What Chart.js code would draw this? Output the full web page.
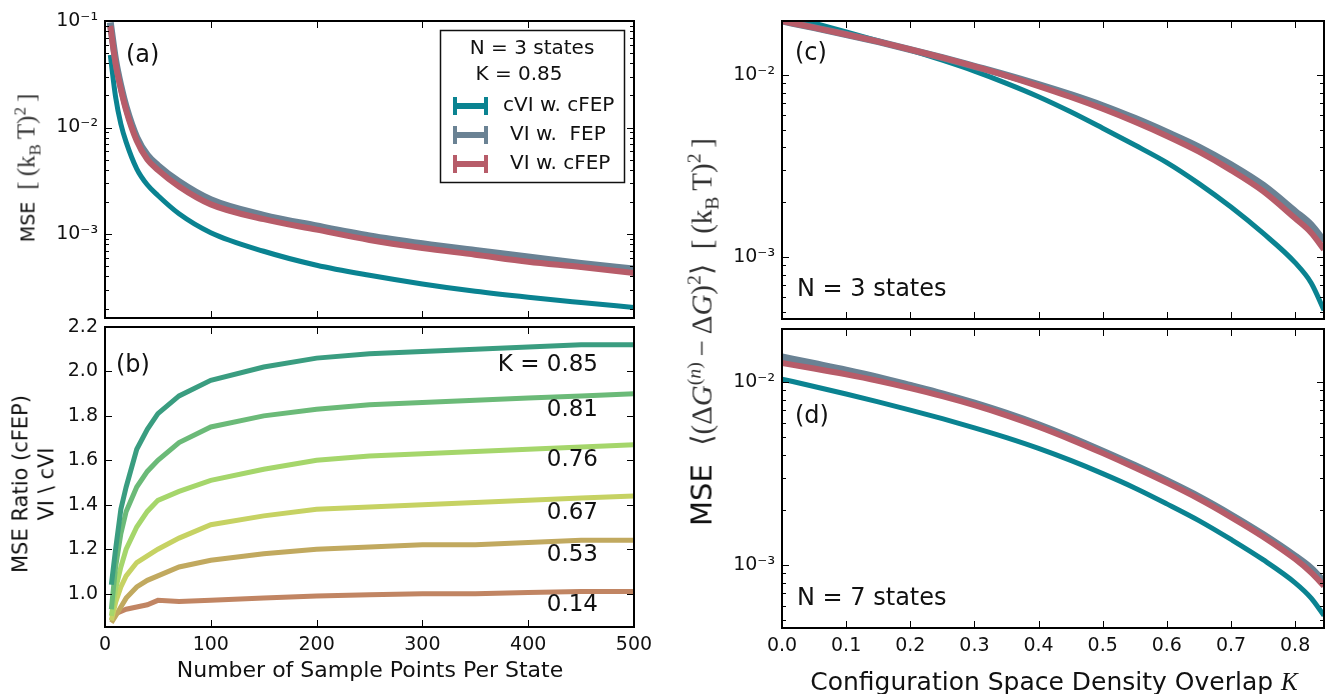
<!DOCTYPE html>
<html>
<head>
<meta charset="utf-8">
<script src="https://cdn.jsdelivr.net/npm/chart.js@4.4.0/dist/chart.umd.min.js"></script>
<style>
body{margin:0;background:#fff;}
#wrap{position:relative;width:1330px;height:694px;overflow:hidden;font-family:"DejaVu Sans",sans-serif;color:#111;}
canvas{position:absolute;left:0;top:0;}
.lbl{position:absolute;white-space:nowrap;line-height:1;}
.ctr{transform:translate(-50%,-50%);}
.rot{transform:translate(-50%,-50%) rotate(-90deg);}
.m{font-family:"Liberation Serif","DejaVu Serif",serif;color:#333;}
sup,sub{font-size:0.68em;line-height:0;}
</style>
</head>
<body>
<div id="wrap">
  <canvas id="pa" width="1330" height="694"></canvas>
  <canvas id="pb" width="1330" height="694"></canvas>
  <canvas id="pc" width="1330" height="694"></canvas>
  <canvas id="pd" width="1330" height="694"></canvas>

  <div class="lbl rot" style="left:26px;top:168px;font-size:19px;">MSE&nbsp;&nbsp;<span class="m" style="font-size:25px;">[&thinsp;(k<sub>B</sub>&thinsp;T)<sup>2</sup>&thinsp;]</span></div>
  <div class="lbl rot" style="left:34px;top:484px;font-size:21px;text-align:center;line-height:1.22;">MSE Ratio (cFEP)<br>VI \ cVI</div>
  <div class="lbl ctr" style="left:370px;top:670px;font-size:22px;">Number of Sample Points Per State</div>
  <div class="lbl rot" style="left:702px;top:332px;font-size:29px;">MSE&nbsp;&nbsp;<span class="m" style="font-size:29px;">&#10216;(Δ<i>G</i><sup>(<i>n</i>)</sup>&thinsp;−&thinsp;Δ<i>G</i>)<sup>2</sup>&#10217;&nbsp;&nbsp;[&thinsp;(k<sub>B</sub>&thinsp;T)<sup>2</sup>&thinsp;]</span></div>
  <div class="lbl ctr" style="left:1054px;top:681px;font-size:25px;">Configuration Space Density Overlap <span class="m" style="font-style:italic;color:#111;">K</span></div>
</div>

<script>
// panel (a): MSE vs number of samples, N = 3 states, K = 0.85
const nSamples = [5, 10, 15, 20, 30, 40, 50, 70, 100, 150, 200, 250, 300, 350, 400, 450, 500];
const mseCVIcFEP = [0.048, 0.0194, 0.0108, 0.0073, 0.0041, 0.0029, 0.0023, 0.00155, 0.00103, 0.00069, 0.00051, 0.00041, 0.00034, 0.00029, 0.000255, 0.000228, 0.000205];
const mseVIFEP   = [0.097, 0.043, 0.0245, 0.0156, 0.0081, 0.0055, 0.0044, 0.0031, 0.0021, 0.0015, 0.00119, 0.00096, 0.00081, 0.0007, 0.00061, 0.00053, 0.00047];
const mseVIcFEP  = [0.090, 0.040, 0.023, 0.0145, 0.0075, 0.0050, 0.0040, 0.0028, 0.0019, 0.00138, 0.0011, 0.00088, 0.00074, 0.00064, 0.00055, 0.00049, 0.00043];
const legendNames = ['cVI w. cFEP', 'VI w.  FEP', 'VI w. cFEP'];

// panel (b): MSE ratio for several overlaps K
const nRatio = [6, 10, 15, 20, 30, 40, 50, 70, 100, 150, 200, 250, 300, 350, 400, 450, 500];
const ratioK85 = [1.04, 1.20, 1.38, 1.48, 1.65, 1.74, 1.81, 1.89, 1.96, 2.02, 2.06, 2.08, 2.09, 2.10, 2.11, 2.12, 2.12];
const ratioK81 = [0.93, 1.12, 1.27, 1.37, 1.48, 1.55, 1.60, 1.68, 1.75, 1.80, 1.83, 1.85, 1.86, 1.87, 1.88, 1.89, 1.90];
const ratioK76 = [0.90, 1.02, 1.12, 1.20, 1.30, 1.37, 1.42, 1.46, 1.51, 1.56, 1.60, 1.62, 1.63, 1.64, 1.65, 1.66, 1.67];
const ratioK67 = [0.88, 0.96, 1.03, 1.08, 1.14, 1.17, 1.20, 1.25, 1.31, 1.35, 1.38, 1.39, 1.40, 1.41, 1.42, 1.43, 1.44];
const ratioK53 = [0.87, 0.90, 0.94, 0.98, 1.03, 1.06, 1.08, 1.12, 1.15, 1.18, 1.20, 1.21, 1.22, 1.22, 1.23, 1.24, 1.24];
const ratioK14 = [0.88, 0.91, 0.92, 0.93, 0.94, 0.95, 0.97, 0.965, 0.97, 0.98, 0.99, 0.995, 1.00, 1.00, 1.005, 1.01, 1.01];
const ratioLabels = ['K = 0.85', '0.81', '0.76', '0.67', '0.53', '0.14'];

// panels (c) and (d): MSE vs overlap K
const kOverlap = [0, 0.05, 0.1, 0.15, 0.2, 0.25, 0.3, 0.35, 0.4, 0.45, 0.5, 0.55, 0.6, 0.65, 0.7, 0.75, 0.8, 0.825, 0.845];
const n3CVIcFEP = [0.0215, 0.01928, 0.01726, 0.0154, 0.0137, 0.01205, 0.0105, 0.0090, 0.0076, 0.00628, 0.0051, 0.00412, 0.0033, 0.00253, 0.00188, 0.00135, 0.00093, 0.00072, 0.00051];
const n3VIFEP   = [0.0198, 0.0182, 0.0167, 0.01524, 0.0138, 0.01245, 0.01116, 0.00999, 0.00886, 0.0078, 0.00678, 0.00578, 0.00485, 0.00402, 0.00321, 0.00248, 0.00178, 0.0015, 0.00122];
const n3VIcFEP  = [0.0198, 0.0182, 0.0167, 0.01524, 0.0138, 0.01245, 0.01114, 0.00989, 0.00869, 0.00757, 0.00652, 0.00553, 0.00462, 0.00379, 0.0030, 0.0023, 0.00163, 0.00136, 0.0011];
const n7CVIcFEP = [0.01038, 0.00946, 0.00861, 0.0078, 0.00703, 0.00631, 0.00562, 0.00497, 0.00434, 0.00373, 0.00316, 0.00264, 0.00216, 0.00175, 0.00138, 0.00107, 0.0008, 0.00066, 0.00053];
const n7VIFEP   = [0.0137, 0.01263, 0.01163, 0.01062, 0.00959, 0.00863, 0.00767, 0.00674, 0.00584, 0.00498, 0.00419, 0.0035, 0.00289, 0.00236, 0.00188, 0.00147, 0.00112, 0.00096, 0.00081];
const n7VIcFEP  = [0.0127, 0.01186, 0.01102, 0.01016, 0.00927, 0.00838, 0.00748, 0.00658, 0.0057, 0.00486, 0.00409, 0.00341, 0.00282, 0.0023, 0.00183, 0.00143, 0.00108, 0.00091, 0.00077];

// tick values
const sampleTicks = [0, 100, 200, 300, 400, 500];
const ratioTicks = [1.0, 1.2, 1.4, 1.6, 1.8, 2.0, 2.2];
const kTicks = [0, 0.1, 0.2, 0.3, 0.4, 0.5, 0.6, 0.7, 0.8];
const logTicksA = [1e-3, 1e-2, 1e-1];
const logTicksCD = [1e-3, 1e-2];

const FONT = '"DejaVu Sans", sans-serif';
const TEAL = '#0a8391', GRAY = '#6a8294', RED = '#b75c69';
const ratioColors = ['#3a9d80', '#6bba78', '#a5d66b', '#c6d263', '#c1a95f', '#c18563'];

const SUP = {'-': '\u207B', '0': '\u2070', '1': '\u00B9', '2': '\u00B2', '3': '\u00B3', '4': '\u2074', '5': '\u2075'};
function logLabel(v) {
  const e = Math.round(Math.log10(v));
  return '10' + String(e).split('').map(c => SUP[c]).join('');
}
function pts(xs, ys) { return xs.map((x, i) => ({x: x, y: ys[i]})); }

// frame with inward ticks on all four sides, plus in-plot text
const frame = {
  id: 'frame',
  afterDatasetsDraw(chart, args, opts) {
    const ctx = chart.ctx, a = chart.chartArea, x = chart.scales.x, y = chart.scales.y;
    ctx.save();
    ctx.strokeStyle = '#000';
    ctx.lineWidth = 1;
    const tk = (px, py, dx, dy) => { ctx.beginPath(); ctx.moveTo(px, py); ctx.lineTo(px + dx, py + dy); ctx.stroke(); };
    x.ticks.forEach(t => { const p = Math.round(x.getPixelForValue(t.value)) + 0.5; tk(p, a.bottom, 0, -7); tk(p, a.top, 0, 7); });
    y.ticks.forEach(t => { const p = Math.round(y.getPixelForValue(t.value)) + 0.5; tk(a.left, p, 7, 0); tk(a.right, p, -7, 0); });
    if (y.type === 'logarithmic') {
      for (let e = -5; e <= 0; e++) {
        for (let m = 2; m < 10; m++) {
          const v = m * Math.pow(10, e);
          if (v > y.min && v < y.max) {
            const p = Math.round(y.getPixelForValue(v)) + 0.5;
            tk(a.left, p, 4, 0); tk(a.right, p, -4, 0);
          }
        }
      }
    }
    ctx.lineWidth = 2;
    ctx.strokeRect(a.left, a.top, a.right - a.left, a.bottom - a.top);
    ctx.fillStyle = '#111';
    ctx.textBaseline = 'middle';
    (opts.texts || []).forEach(t => {
      ctx.font = t.size + 'px ' + FONT;
      ctx.textAlign = t.align || 'left';
      ctx.fillText(t.text, t.x, t.y);
    });
    if (opts.legend) drawLegend(ctx);
    ctx.restore();
  }
};

function drawLegend(ctx) {
  ctx.fillStyle = '#fff';
  ctx.fillRect(440, 30, 184, 152);
  ctx.strokeStyle = '#111';
  ctx.lineWidth = 1.5;
  ctx.strokeRect(440.5, 30.5, 184, 152);
  ctx.fillStyle = '#111';
  ctx.font = '20px ' + FONT;
  ctx.textAlign = 'center';
  ctx.fillText('N = 3 states', 532, 49);
  ctx.fillText('K = 0.85', 519, 75);
  const cols = [TEAL, GRAY, RED];
  const tx = [503, 510, 510];
  legendNames.forEach((name, i) => {
    const yy = 106 + i * 29;
    ctx.fillStyle = cols[i];
    ctx.fillRect(453, yy - 3, 35, 6);
    ctx.fillRect(453, yy - 9, 4, 18);
    ctx.fillRect(484, yy - 9, 4, 18);
    ctx.fillStyle = '#111';
    ctx.textAlign = 'left';
    ctx.fillText(name, tx[i], yy);
  });
}

function line(xs, ys, color, width, smooth) {
  return {
    data: pts(xs, ys), borderColor: color, borderWidth: width, pointRadius: 0,
    fill: false, clip: 0, cubicInterpolationMode: smooth ? 'monotone' : 'default', tension: 0
  };
}

function panel(id, o) {
  return new Chart(document.getElementById(id), {
    type: 'line',
    data: {datasets: o.datasets},
    options: {
      responsive: false, animation: false, devicePixelRatio: 1,
      layout: {padding: o.pad},
      plugins: {legend: {display: false}, tooltip: {enabled: false}, frame: {texts: o.texts, legend: o.legend}},
      scales: {
        x: {
          type: 'linear', min: o.xMin, max: o.xMax,
          grid: {display: false, drawTicks: false}, border: {display: false},
          ticks: {display: o.xShow, font: {family: FONT, size: 19}, color: '#111', padding: 7, maxRotation: 0, autoSkip: false, callback: o.xFmt},
          afterBuildTicks: s => { s.ticks = o.xTicks.map(v => ({value: v})); },
          afterFit: s => { s.height = o.xH; s.paddingLeft = 0; s.paddingRight = 0; }
        },
        y: {
          type: o.yType, min: o.yMin, max: o.yMax,
          grid: {display: false, drawTicks: false}, border: {display: false},
          ticks: {font: {family: FONT, size: 19}, color: '#111', padding: 7, autoSkip: false, callback: o.yFmt},
          afterBuildTicks: s => { s.ticks = o.yTicks.map(v => ({value: v})); },
          afterFit: s => { s.width = o.yW; s.paddingTop = 0; s.paddingBottom = 0; }
        }
      }
    },
    plugins: [frame]
  });
}

// (a)
panel('pa', {
  pad: {left: 0, top: 21, right: 696, bottom: 376},
  yW: 105, xH: 0, xShow: false,
  xMin: 0, xMax: 500, xTicks: sampleTicks, xFmt: v => String(v),
  yType: 'logarithmic', yMin: 1.63e-4, yMax: 0.1, yTicks: logTicksA, yFmt: v => logLabel(v),
  datasets: [
    line(nSamples, mseVIcFEP, RED, 6, true),
    line(nSamples, mseVIFEP, GRAY, 7, true),
    line(nSamples, mseCVIcFEP, TEAL, 5, true)
  ],
  texts: [{text: '(a)', x: 126, y: 56, size: 24}],
  legend: true
});

// (b)
const ratioSeries = [ratioK85, ratioK81, ratioK76, ratioK67, ratioK53, ratioK14];
const ratioLabelY = [365, 410, 460, 513, 555, 605];
panel('pb', {
  pad: {left: 0, top: 327, right: 696, bottom: 0},
  yW: 105, xH: 67, xShow: true,
  xMin: 0, xMax: 500, xTicks: sampleTicks, xFmt: v => String(v),
  yType: 'linear', yMin: 0.85, yMax: 2.2, yTicks: ratioTicks, yFmt: v => v.toFixed(1),
  datasets: ratioSeries.map((s, i) => line(nRatio, s, ratioColors[i], 5, false)),
  texts: [{text: '(b)', x: 116, y: 366, size: 24}].concat(
    ratioLabels.map((t, i) => ({text: t, x: 598, y: ratioLabelY[i], size: 23, align: 'right'})))
});

// (c)
panel('pc', {
  pad: {left: 700, top: 21, right: 6, bottom: 375},
  yW: 82, xH: 0, xShow: false,
  xMin: 0, xMax: 0.845, xTicks: kTicks, xFmt: v => v.toFixed(1),
  yType: 'logarithmic', yMin: 4.56e-4, yMax: 0.0198, yTicks: logTicksCD, yFmt: v => logLabel(v),
  datasets: [
    line(kOverlap, n3VIcFEP, RED, 6, true),
    line(kOverlap, n3VIFEP, GRAY, 7, true),
    line(kOverlap, n3CVIcFEP, TEAL, 5, true)
  ],
  texts: [{text: '(c)', x: 795, y: 54, size: 24}, {text: 'N = 3 states', x: 797, y: 290, size: 24}]
});

// (d)
panel('pd', {
  pad: {left: 700, top: 329, right: 6, bottom: 0},
  yW: 82, xH: 66, xShow: true,
  xMin: 0, xMax: 0.845, xTicks: kTicks, xFmt: v => v.toFixed(1),
  yType: 'logarithmic', yMin: 4.53e-4, yMax: 0.0195, yTicks: logTicksCD, yFmt: v => logLabel(v),
  datasets: [
    line(kOverlap, n7VIcFEP, RED, 6, true),
    line(kOverlap, n7VIFEP, GRAY, 7, true),
    line(kOverlap, n7CVIcFEP, TEAL, 5, true)
  ],
  texts: [{text: '(d)', x: 795, y: 417, size: 24}, {text: 'N = 7 states', x: 797, y: 599, size: 24}]
});
</script>
</body>
</html>
